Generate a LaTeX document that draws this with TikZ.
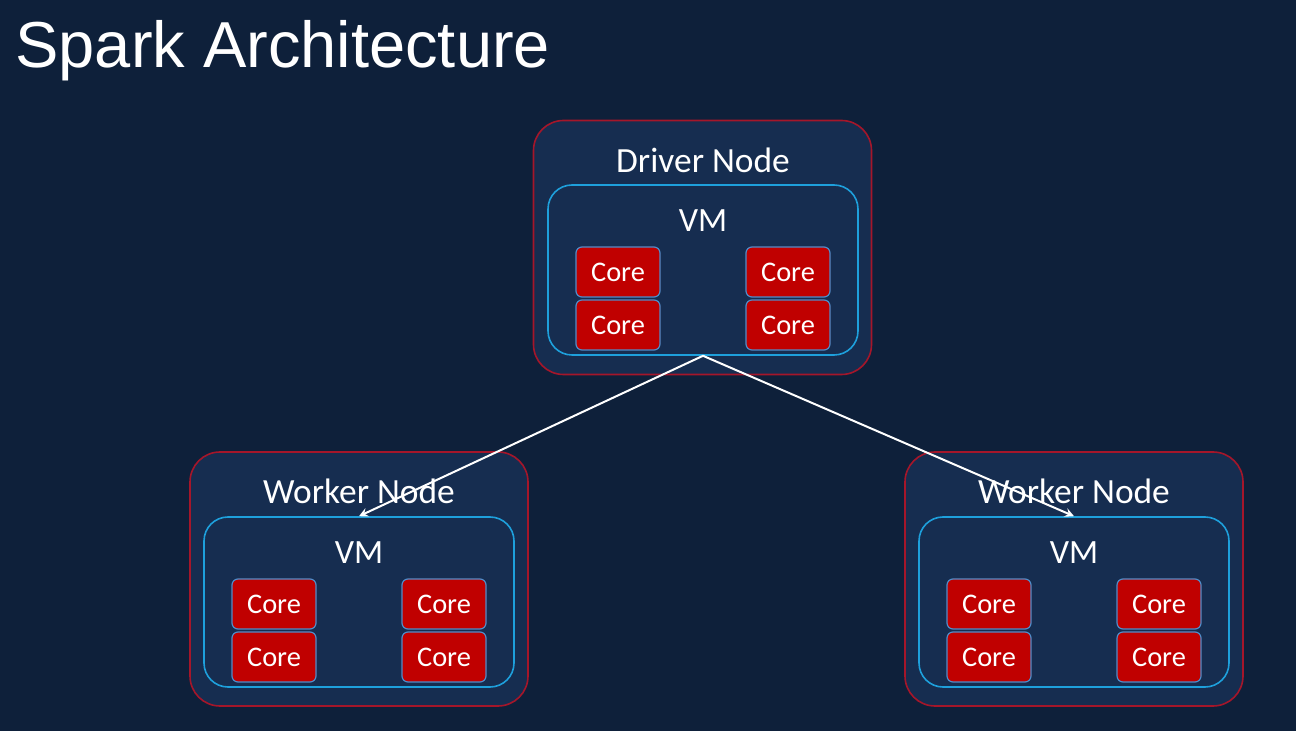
\documentclass[tikz,border=0pt]{standalone}
\usepackage{fontspec}
\setmainfont{Carlito}
\newfontfamily\titlefont{Liberation Sans}
\usetikzlibrary{arrows}

\begin{document}
\begin{tikzpicture}[line cap=round,line join=round,>=stealth,x=0.5pt,y=-0.5pt]
\definecolor{bgblue}{RGB}{14,32,58}
\definecolor{boxblue}{RGB}{22,45,80}
\definecolor{nodered}{RGB}{165,22,42}
\definecolor{vmcyan}{RGB}{30,160,220}
\definecolor{corered}{RGB}{192,0,0}
\definecolor{coreedge}{RGB}{80,140,200}
\tikzset{
  hostbox/.style={draw=nodered,line width=0.8pt,fill=boxblue,rounded corners=15pt,minimum width=169pt,minimum height=127pt},
  vmbox/.style={draw=vmcyan,line width=0.8pt,fill=boxblue,rounded corners=12pt,minimum width=155pt,minimum height=85pt},
  corebox/.style={draw=coreedge,line width=0.6pt,fill=corered,rounded corners=3pt,minimum width=42pt,minimum height=25pt,text=white,font=\fontsize{14.2}{16}\selectfont},
  hostlabel/.style={text=white,font=\fontsize{17.7}{20}\selectfont},
  vmlabel/.style={text=white,font=\fontsize{17}{20}\selectfont}
}
\fill[bgblue] (0,0) rectangle (1296,731);
\node[anchor=base west,text=white,inner sep=0pt,font=\titlefont\fontsize{32.5}{36}\selectfont] (title) at (15,68) {Spark Architecture};
% driver
\node[hostbox] (driver) at (702.5,247.5) {};
\node[vmbox] (drivervm) at (703,270) {};
\node[hostlabel] (driverlabel) at (703,160) {Driver Node};
\node[vmlabel] (drivervmlabel) at (703,221) {VM};
\node[corebox] (dcore1) at (618,272) {Core};
\node[corebox] (dcore2) at (788,272) {Core};
\node[corebox] (dcore3) at (618,325) {Core};
\node[corebox] (dcore4) at (788,325) {Core};
% workers
\foreach \name/\cx in {workerA/359,workerB/1074} {
  \node[hostbox] (\name) at (\cx,579) {};
  \node[vmbox] (\name vm) at (\cx,602) {};
  \node[hostlabel] (\name label) at (\cx,491) {Worker Node};
  \node[vmlabel] (\name vmlabel) at (\cx,553) {VM};
  \node[corebox] (\name core1) at (\cx-85,604) {Core};
  \node[corebox] (\name core2) at (\cx+85,604) {Core};
  \node[corebox] (\name core3) at (\cx-85,657) {Core};
  \node[corebox] (\name core4) at (\cx+85,657) {Core};
}
\draw[->,white,line width=1pt] (drivervm.south) -- (workerAvm.north);
\draw[->,white,line width=1pt] (drivervm.south) -- (workerBvm.north);
\end{tikzpicture}
\end{document}
